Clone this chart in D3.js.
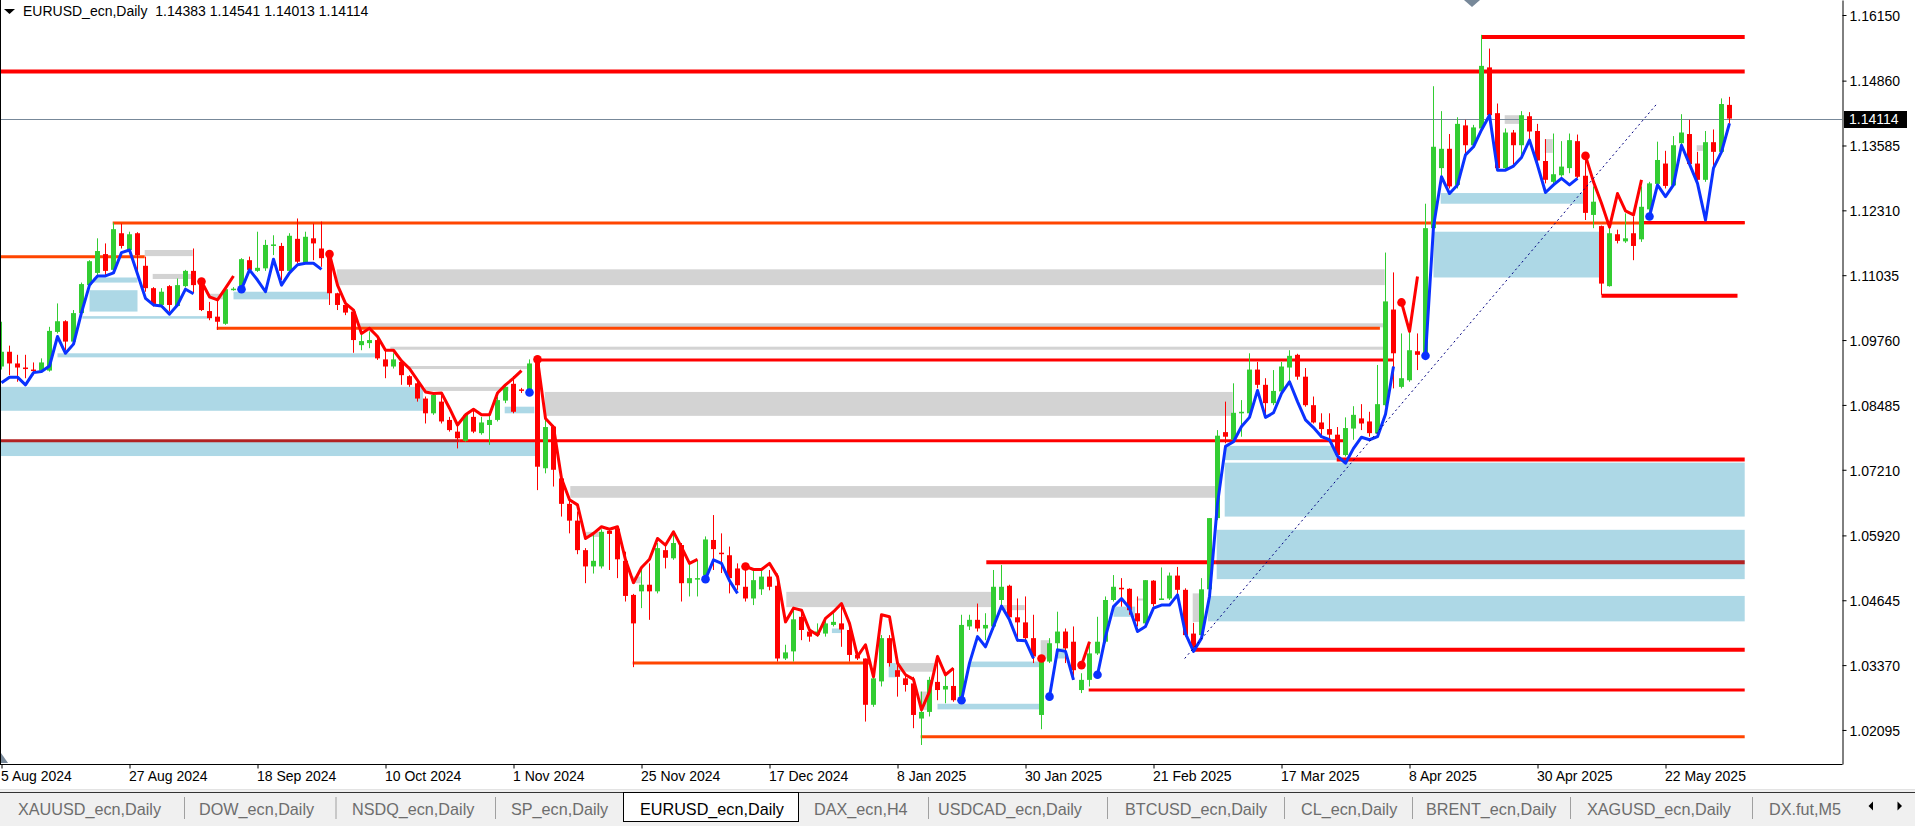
<!DOCTYPE html>
<html>
<head>
<meta charset="utf-8">
<script src="https://cdn.jsdelivr.net/npm/d3@7/dist/d3.min.js"></script>
<style>
html,body{margin:0;padding:0;background:#fff;overflow:hidden;}
svg{display:block;}
text{font-family:"Liberation Sans",Arial,sans-serif;}
</style>
</head>
<body>
<svg id="chart" width="1915" height="826"></svg>
<script>
// ---------------- DATA ----------------
const symbolTitle = "EURUSD_ecn,Daily";
const lastOHLC = ["1.14383", "1.14541", "1.14013", "1.14114"];
const currentPrice = 1.14114;

const priceTicks = [1.16150, 1.14860, 1.13585, 1.12310, 1.11035, 1.09760, 1.08485, 1.07210, 1.05920, 1.04645, 1.03370, 1.02095];
const dateLabels = ["5 Aug 2024", "27 Aug 2024", "18 Sep 2024", "10 Oct 2024", "1 Nov 2024", "25 Nov 2024", "17 Dec 2024", "8 Jan 2025", "30 Jan 2025", "21 Feb 2025", "17 Mar 2025", "8 Apr 2025", "30 Apr 2025", "22 May 2025"];
const dateLabelBars = [0, 16, 32, 48, 64, 80, 96, 112, 128, 144, 160, 176, 192, 208];

const tabNames = ["XAUUSD_ecn,Daily", "DOW_ecn,Daily", "NSDQ_ecn,Daily", "SP_ecn,Daily", "EURUSD_ecn,Daily", "DAX_ecn,H4", "USDCAD_ecn,Daily", "BTCUSD_ecn,Daily", "CL_ecn,Daily", "BRENT_ecn,Daily", "XAGUSD_ecn,Daily", "DX.fut,M5"];
const activeTab = "EURUSD_ecn,Daily";

const opens = [1.0924,1.0953,1.0930,1.0922,1.0918,1.0916,1.0916,1.0992,1.1013,1.0973,1.1029,1.1084,1.1108,1.1145,1.1114,1.1186,1.1153,1.1186,1.1122,1.1078,1.1045,1.1082,1.1043,1.1082,1.1112,1.1094,1.1033,1.1022,1.1008,1.1075,1.1078,1.1133,1.1112,1.1117,1.1161,1.1161,1.1112,1.1175,1.1128,1.1176,1.1156,1.1150,1.1068,1.1045,1.1032,1.0966,1.0970,1.0976,1.0938,1.0924,1.0933,1.0905,1.0891,1.0861,1.0832,1.0855,1.0819,1.0796,1.0778,1.0825,1.0793,1.0809,1.0819,1.0857,1.0890,1.0879,1.0878,1.0937,1.0724,1.0806,1.0704,1.0654,1.0621,1.0563,1.0531,1.0531,1.0601,1.0605,1.0542,1.0475,1.0482,1.0495,1.0482,1.0563,1.0547,1.0573,1.0498,1.0506,1.0514,1.0583,1.0558,1.0553,1.0527,1.0491,1.0468,1.0486,1.0511,1.0493,1.0350,1.0364,1.0432,1.0403,1.0396,1.0399,1.0416,1.0419,1.0406,1.0357,1.0350,1.0259,1.0305,1.0390,1.0327,1.0311,1.0301,1.0232,1.0245,1.0304,1.0289,1.0296,1.0275,1.0413,1.0426,1.0409,1.0413,1.0465,1.0493,1.0431,1.0421,1.0390,1.0239,1.0344,1.0380,1.0403,1.0383,1.0288,1.0308,1.0360,1.0383,1.0465,1.0489,1.0487,1.0439,1.0419,1.0503,1.0465,1.0468,1.0513,1.0485,1.0399,1.0396,1.0486,1.0626,1.0795,1.0780,1.0832,1.0832,1.0918,1.0888,1.0852,1.0875,1.0922,1.0947,1.0904,1.0848,1.0814,1.0801,1.0790,1.0750,1.0802,1.0822,1.0816,1.0793,1.0848,1.1036,1.0884,1.0897,1.0954,1.0950,1.1196,1.1314,1.1352,1.1281,1.1398,1.1359,1.1392,1.1512,1.1422,1.1314,1.1384,1.1359,1.1416,1.1387,1.1328,1.1287,1.1300,1.1314,1.1367,1.1299,1.1222,1.1200,1.1082,1.1184,1.1170,1.1186,1.1174,1.1233,1.1283,1.1323,1.1280,1.1363,1.1381,1.1323,1.1291,1.1365,1.1346,1.14383];
const highs = [1.1012,1.0965,1.0947,1.0947,1.0932,1.0940,1.1002,1.1048,1.1015,1.1035,1.1089,1.1133,1.1176,1.1166,1.1207,1.1205,1.1189,1.1188,1.1140,1.1080,1.1078,1.1084,1.1097,1.1114,1.1156,1.1097,1.1051,1.1055,1.1078,1.1080,1.1137,1.1140,1.1189,1.1173,1.1182,1.1167,1.1186,1.1215,1.1189,1.1205,1.1209,1.1153,1.1069,1.1048,1.1035,1.0989,1.0993,1.0979,1.0956,1.0950,1.0937,1.0907,1.0894,1.0865,1.0871,1.0871,1.0825,1.0811,1.0832,1.0842,1.0825,1.0829,1.0865,1.0890,1.0905,1.0882,1.0938,1.0943,1.0822,1.0809,1.0708,1.0662,1.0639,1.0567,1.0599,1.0604,1.0604,1.0609,1.0560,1.0477,1.0527,1.0537,1.0577,1.0577,1.0596,1.0577,1.0537,1.0544,1.0590,1.0632,1.0596,1.0570,1.0537,1.0537,1.0524,1.0524,1.0524,1.0517,1.0377,1.0445,1.0445,1.0412,1.0419,1.0429,1.0440,1.0455,1.0413,1.0364,1.0350,1.0327,1.0396,1.0396,1.0341,1.0318,1.0314,1.0285,1.0314,1.0357,1.0318,1.0331,1.0436,1.0436,1.0458,1.0439,1.0524,1.0534,1.0495,1.0468,1.0472,1.0436,1.0350,1.0390,1.0442,1.0409,1.0413,1.0321,1.0383,1.0432,1.0472,1.0514,1.0508,1.0488,1.0472,1.0504,1.0504,1.0529,1.0519,1.0530,1.0488,1.0420,1.0508,1.0626,1.0799,1.0855,1.0891,1.0858,1.0950,1.0933,1.0901,1.0917,1.0933,1.0956,1.0949,1.0921,1.0865,1.0832,1.0832,1.0805,1.0824,1.0846,1.0850,1.0835,1.0927,1.1148,1.1109,1.0989,1.0996,1.0989,1.1244,1.1475,1.1426,1.1381,1.1414,1.1409,1.1399,1.1576,1.1549,1.1441,1.1392,1.1389,1.1426,1.1424,1.1401,1.1371,1.1382,1.1367,1.1382,1.1380,1.1337,1.1278,1.1201,1.1199,1.1193,1.1225,1.1219,1.1278,1.1287,1.1366,1.1348,1.1377,1.1420,1.1409,1.1346,1.1387,1.1390,1.1451,1.14541];
const lows = [1.0918,1.0907,1.0894,1.0901,1.0907,1.0914,1.0914,1.0989,1.0956,1.0970,1.1025,1.1081,1.1104,1.1102,1.1110,1.1156,1.1150,1.1101,1.1071,1.1042,1.1042,1.1032,1.1042,1.1080,1.1068,1.1033,1.1015,1.0996,1.1006,1.1073,1.1074,1.1110,1.1110,1.1112,1.1143,1.1094,1.1110,1.1127,1.1127,1.1133,1.1120,1.1045,1.1035,1.1025,1.0951,1.0956,1.0960,1.0937,1.0901,1.0920,1.0888,1.0884,1.0855,1.0812,1.0829,1.0812,1.0796,1.0763,1.0776,1.0793,1.0790,1.0770,1.0816,1.0852,1.0832,1.0872,1.0871,1.0681,1.0714,1.0688,1.0629,1.0596,1.0555,1.0498,1.0517,1.0527,1.0524,1.0508,1.0462,1.0333,1.0449,1.0426,1.0478,1.0527,1.0544,1.0462,1.0472,1.0472,1.0508,1.0524,1.0518,1.0478,1.0485,1.0462,1.0455,1.0475,1.0484,1.0344,1.0347,1.0344,1.0386,1.0383,1.0393,1.0393,1.0413,1.0373,1.0344,1.0347,1.0226,1.0255,1.0295,1.0334,1.0275,1.0285,1.0213,1.0180,1.0236,1.0268,1.0262,1.0265,1.0268,1.0406,1.0403,1.0386,1.0406,1.0452,1.0426,1.0383,1.0383,1.0341,1.0211,1.0341,1.0367,1.0341,1.0308,1.0282,1.0295,1.0357,1.0380,1.0462,1.0452,1.0436,1.0413,1.0416,1.0452,1.0465,1.0465,1.0472,1.0393,1.0367,1.0393,1.0482,1.0622,1.0773,1.0776,1.0786,1.0829,1.0881,1.0829,1.0848,1.0871,1.0891,1.0898,1.0845,1.0812,1.0786,1.0780,1.0740,1.0747,1.0780,1.0799,1.0786,1.0790,1.0845,1.0881,1.0881,1.0894,1.0917,1.0947,1.1192,1.1297,1.1274,1.1274,1.1343,1.1356,1.1392,1.1415,1.1310,1.1310,1.1317,1.1337,1.1369,1.1323,1.1284,1.1281,1.1297,1.1304,1.1294,1.1212,1.1196,1.1065,1.1081,1.1166,1.1167,1.1133,1.1169,1.1225,1.1281,1.1274,1.1277,1.1359,1.1320,1.1287,1.1287,1.1304,1.1344,1.14013];
const closes = [1.0953,1.0930,1.0922,1.0919,1.0916,1.0932,1.0994,1.1013,1.0973,1.1029,1.1086,1.1131,1.1151,1.1112,1.1194,1.1161,1.1184,1.1143,1.1078,1.1047,1.1071,1.1045,1.1084,1.1112,1.1084,1.1035,1.1019,1.1012,1.1076,1.1077,1.1135,1.1114,1.1118,1.1163,1.1164,1.1112,1.1181,1.1130,1.1179,1.1166,1.1137,1.1068,1.1045,1.1030,1.0976,1.0974,1.0976,1.0940,1.0924,1.0938,1.0907,1.0888,1.0861,1.0832,1.0868,1.0816,1.0799,1.0783,1.0829,1.0796,1.0814,1.0819,1.0858,1.0884,1.0835,1.0876,1.0930,1.0727,1.0805,1.0721,1.0654,1.0621,1.0563,1.0531,1.0542,1.0599,1.0595,1.0545,1.0473,1.0419,1.0495,1.0482,1.0567,1.0548,1.0577,1.0498,1.0508,1.0508,1.0584,1.0565,1.0556,1.0508,1.0494,1.0468,1.0504,1.0511,1.0491,1.0350,1.0362,1.0427,1.0406,1.0393,1.0403,1.0419,1.0422,1.0407,1.0357,1.0350,1.0259,1.0311,1.0390,1.0341,1.0314,1.0298,1.0239,1.0245,1.0308,1.0288,1.0296,1.0268,1.0416,1.0426,1.0409,1.0416,1.0491,1.0491,1.0431,1.0421,1.0390,1.0354,1.0347,1.0380,1.0403,1.0370,1.0327,1.0308,1.0360,1.0383,1.0465,1.0491,1.0486,1.0445,1.0423,1.0504,1.0457,1.0468,1.0513,1.0485,1.0396,1.0373,1.0486,1.0626,1.0788,1.0786,1.0833,1.0835,1.0918,1.0888,1.0852,1.0876,1.0924,1.0945,1.0904,1.0848,1.0814,1.0801,1.0790,1.0750,1.0803,1.0829,1.0812,1.0793,1.0850,1.1052,1.0950,1.0901,1.0956,1.0947,1.1196,1.1356,1.1352,1.1278,1.1401,1.1359,1.1394,1.1515,1.1418,1.1314,1.1384,1.1359,1.1418,1.1386,1.1329,1.1291,1.1302,1.1317,1.1369,1.1297,1.1226,1.1248,1.1087,1.1186,1.1171,1.1176,1.1161,1.1238,1.1284,1.1330,1.1279,1.1359,1.1384,1.1322,1.1291,1.1365,1.1346,1.1440,1.14114];

// trend-following HiLo line (one value per bar) and its runs: [firstBar, lastBar, direction(1 up / -1 down)]
const hiloValues = [1.0892,1.0903,1.0903,1.0888,1.0912,1.0914,1.0925,1.0983,1.0950,1.0968,1.1030,1.1084,1.1102,1.1102,1.1108,1.1148,1.1153,1.1106,1.1058,1.1045,1.1043,1.1027,1.1045,1.1076,1.1067,
1.1091,1.1061,1.1055,1.1078,1.1102,
1.1076,1.1114,1.1094,1.1071,1.1135,1.1084,1.1108,1.1124,1.1127,1.1127,1.1115,
1.1145,1.1084,1.1048,1.1035,1.0989,1.0999,1.0983,1.0956,1.0956,1.0935,1.0920,1.0897,1.0874,1.0871,1.0872,1.0842,1.0809,1.0829,1.0840,1.0829,1.0829,1.0872,1.0888,1.0901,1.0916,
1.0873,
1.0938,1.0822,1.0805,1.0704,1.0662,1.0652,1.0586,1.0596,1.0609,1.0604,1.0609,1.0544,1.0499,1.0529,1.0545,1.0586,1.0573,1.0599,1.0569,1.0537,1.0545,
1.0506,1.0544,1.0537,1.0503,1.0478,
1.0531,1.0525,1.0525,1.0537,1.0511,1.0422,1.0449,1.0445,1.0406,1.0396,1.0429,1.0442,1.0458,1.0419,1.0354,1.0377,1.0314,1.0436,1.0432,1.0341,1.0318,1.0309,1.0249,1.0285,1.0354,1.0318,1.0331,
1.0268,1.0341,1.0393,1.0373,1.0413,1.0453,1.0426,1.0386,1.0385,1.0350,
1.0350,
1.0275,1.0367,1.0364,1.0308,
1.0337,1.0383,
1.0318,1.0393,1.0452,1.0468,1.0449,1.0403,1.0413,1.0449,1.0455,1.0455,1.0475,1.0399,1.0364,1.0390,1.0472,1.0655,1.0767,1.0776,1.0806,1.0824,1.0877,1.0824,1.0833,1.0871,1.0894,1.0855,1.0819,1.0804,1.0786,1.0780,1.0748,1.0734,1.0763,1.0785,1.0780,1.0786,1.0830,1.0924,
1.1050,1.0993,1.1101,
1.0945,1.1199,1.1297,1.1264,1.1281,1.1340,1.1356,1.1389,1.1418,1.1310,1.1310,1.1318,1.1335,1.1369,1.1320,1.1266,1.1281,1.1294,1.1281,1.1294,
1.1338,1.1287,1.1245,1.1198,1.1264,1.1230,1.1222,1.1291,
1.1219,1.1281,1.1258,1.1281,1.1359,1.1322,1.1284,1.1212,1.1314,1.1346,1.1402];
const hiloRuns = [[0,24,1],[25,29,-1],[30,40,1],[41,65,-1],[66,66,1],[67,87,-1],[88,92,1],[93,119,-1],[120,129,1],[130,130,-1],[131,134,1],[135,136,-1],[137,174,1],[175,177,-1],[178,197,1],[198,205,-1],[206,216,1]];

// zones: [startBar, endBar, upperPrice, lowerPrice]
const demandZones = [[11.5,17,1.1099,1.1089],[11,17,1.1074,1.1032],[10.1,25.9,1.1023,1.1018],[7,46.7,1.0950,1.0942],[-1,52.7,1.0884,1.0837],[-1,66.8,1.0776,1.0748],[62.9,66.6,1.0845,1.0832],[29,40.9,1.1071,1.1056],[103.8,105,1.0409,1.0400],[110.9,111.8,1.0341,1.0313],[121,129.7,1.0344,1.0333],[117,129.7,1.0261,1.0250],[131.9,133,1.0370,1.0350],[139,141.7,1.0452,1.0432],[152.9,166.9,1.0768,1.0740],[152.9,217.9,1.0735,1.0629],[151.9,217.9,1.0603,1.0506],[150.8,217.9,1.0473,1.0423],[179.9,197.7,1.1265,1.1244],[179,199.7,1.1189,1.1099]];
const supplyZones = [[17.9,23.9,1.1153,1.1141],[18.9,23.9,1.1106,1.1096],[25.9,28.1,1.1067,1.1056],[41.9,172.9,1.1115,1.1084],[44.8,172.7,1.1009,1.1001],[48.6,172.7,1.0963,1.0957],[50.8,65.8,1.0925,1.0919],[52.9,63.4,1.0884,1.0876],[67.9,153.9,1.0874,1.0827],[71.1,151.7,1.0689,1.0666],[98.1,123.7,1.0481,1.0451],[73,75.3,1.0599,1.0589],[78.8,79.9,1.0511,1.0498],[111.8,116.6,1.0341,1.0324],[114.8,115.7,1.0285,1.0249],[124.8,127.9,1.0455,1.0445],[129.9,131.1,1.0386,1.0350],[141.9,142.7,1.0468,1.0464],[148.9,149.8,1.0478,1.0422],[187.9,189.7,1.1418,1.1401],[192.9,193.9,1.1371,1.1344],[211.9,212.7,1.1359,1.1348]];

// horizontal levels: [startBar, endBar, price]
const majorLevels = [[185,217.9,1.1572],[-1,217.9,1.1504],[166.9,217.9,1.0741],[123.1,151.8,1.0539],[148.9,217.9,1.0367],[200,217,1.1063]];
const minorLevels = [[205.2,217.9,1.1207],[66.8,174,1.0937],[57.2,167.7,1.0778],[135.9,217.9,1.0288]];
const swingLevels = [[13.9,217.9,1.1206],[-1,17.9,1.1140],[26.9,172.3,1.0999],[114.9,217.9,1.0196],[78.9,108.7,1.0341]];
const oldLevels = [[-1,57.2,1.0778,3],[151.8,217.9,1.0539,4]];

const trendlineBars = [147.9, 206.9];
const trendlinePrices = [1.0350, 1.1440];

// ---------------- DRAW ----------------
const svg = d3.select("#chart");
const PR = 1842, PB = 764;
const x = d3.scaleLinear().domain([0, 216]).range([1.5, 1729.5]);
const y = d3.scaleLinear().domain([1.01426, 1.16445]).range([PB, 0]);

svg.append("rect").attr("width", 1915).attr("height", 826).attr("fill", "#fff");
svg.append("defs").append("clipPath").attr("id", "pc")
  .append("rect").attr("x", 0).attr("y", 0).attr("width", PR).attr("height", PB);
const g = svg.append("g").attr("clip-path", "url(#pc)");

function zones(data, color) {
  g.append("g").selectAll("rect").data(data).join("rect")
    .attr("x", d => x(d[0])).attr("width", d => x(d[1]) - x(d[0]))
    .attr("y", d => y(d[2])).attr("height", d => Math.max(1, y(d[3]) - y(d[2])))
    .attr("fill", color);
}
zones(supplyZones, "#d3d3d3");
zones(demandZones, "#add8e6");

function levels(data, color, w) {
  g.append("g").selectAll("line").data(data).join("line")
    .attr("x1", d => x(d[0])).attr("x2", d => x(d[1]))
    .attr("y1", d => y(d[2])).attr("y2", d => y(d[2]))
    .attr("stroke", color).attr("stroke-width", d => d[3] || w);
}
levels(swingLevels, "#ff4500", 3);
levels(minorLevels, "#ff0000", 3);
levels(majorLevels, "#ff0000", 4);
levels(oldLevels, "#b22222", 3);

// current price line
g.append("line").attr("x1", 0).attr("x2", PR)
  .attr("y1", Math.round(y(currentPrice)) + 0.5).attr("y2", Math.round(y(currentPrice)) + 0.5)
  .attr("stroke", "#778899").attr("stroke-width", 1);

// candles
const bars = d3.range(opens.length).map(i => ({i, o: opens[i], h: highs[i], l: lows[i], c: closes[i]}));
const cg = g.append("g");
const cs = cg.selectAll("g").data(bars).join("g");
cs.append("line")
  .attr("x1", d => x(d.i)).attr("x2", d => x(d.i))
  .attr("y1", d => y(d.h)).attr("y2", d => y(d.l))
  .attr("stroke", d => d.c >= d.o ? "#32cd32" : "#ff0000").attr("stroke-width", 1);
cs.append("rect")
  .attr("x", d => x(d.i) - 2.5).attr("width", 5)
  .attr("y", d => y(Math.max(d.o, d.c)))
  .attr("height", d => Math.max(1.5, Math.abs(y(d.o) - y(d.c))))
  .attr("fill", d => d.c >= d.o ? "#32cd32" : "#ff0000");

// HiLo trend line
const ln = d3.line().x(d => x(d)).y(d => y(hiloValues[d]));
const hg = g.append("g");
hiloRuns.forEach((r, k) => {
  const col = r[2] > 0 ? "#0a32ff" : "#ff0000";
  const idx = d3.range(r[0], r[1] + 1);
  if (idx.length > 1) {
    hg.append("path").attr("d", ln(idx)).attr("fill", "none")
      .attr("stroke", col).attr("stroke-width", 3).attr("stroke-linejoin", "round");
  }
  if (k > 0) {
    hg.append("circle").attr("cx", x(r[0])).attr("cy", y(hiloValues[r[0]])).attr("r", 4.3).attr("fill", col);
  }
});

// dotted trendline
g.append("line")
  .attr("x1", x(trendlineBars[0])).attr("y1", y(trendlinePrices[0]))
  .attr("x2", x(trendlineBars[1])).attr("y2", y(trendlinePrices[1]))
  .attr("stroke", "#000080").attr("stroke-width", 1).attr("stroke-dasharray", "2,3");

// chart shift markers
svg.append("polygon").attr("points", "1464,0 1480,0 1472,7").attr("fill", "#778899");
svg.append("polygon").attr("points", "1,753 1,763 8,763").attr("fill", "#778899");

// frame
svg.append("line").attr("x1", 0.5).attr("x2", 0.5).attr("y1", 0).attr("y2", PB).attr("stroke", "#000");
svg.append("line").attr("x1", 0).attr("x2", PR + 0.5).attr("y1", PB + 0.5).attr("y2", PB + 0.5).attr("stroke", "#000");

// y axis
const yAxis = d3.axisRight(y).tickValues(priceTicks).tickFormat(d3.format(".5f")).tickSize(4).tickSizeOuter(0).tickPadding(3);
const ya = svg.append("g").attr("transform", `translate(${PR + 0.5},0)`).call(yAxis);
ya.select(".domain").attr("stroke", "#000");
ya.selectAll("line").attr("stroke", "#000");
ya.selectAll("text").attr("font-family", "Liberation Sans").attr("font-size", 14).attr("fill", "#000").attr("dy", "0.38em");

// current price label
const cy = Math.round(y(currentPrice));
svg.append("rect").attr("x", PR + 2).attr("y", cy - 8).attr("width", 63).attr("height", 17).attr("fill", "#000");
svg.append("text").attr("x", PR + 7).attr("y", cy + 5).attr("font-size", 14).attr("fill", "#fff").text(d3.format(".5f")(currentPrice));

// x axis
const xAxis = d3.axisBottom(x).tickValues(dateLabelBars).tickFormat((d, i) => dateLabels[i]).tickSize(4).tickSizeOuter(0).tickPadding(3);
const xa = svg.append("g").attr("transform", `translate(0,${PB + 0.5})`).call(xAxis);
xa.select(".domain").remove();
xa.selectAll("line").attr("stroke", "#000");
xa.selectAll("text").attr("font-family", "Liberation Sans").attr("font-size", 14).attr("fill", "#000")
  .attr("text-anchor", "start").attr("x", -1);

// header
svg.append("polygon").attr("points", "4,9 15,9 9.5,14").attr("fill", "#000");
svg.append("text").attr("x", 23).attr("y", 15.5).attr("font-size", 14).attr("fill", "#000")
  .attr("xml:space", "preserve").text(symbolTitle + "  " + lastOHLC.join(" "));

// tab strip
svg.append("rect").attr("x", 0).attr("y", 789).attr("width", 1915).attr("height", 37).attr("fill", "#f0f0f0");
svg.append("line").attr("x1", 0).attr("x2", 1915).attr("y1", 789.5).attr("y2", 789.5).attr("stroke", "#e3e3e3");
svg.append("line").attr("x1", 0).attr("x2", 1915).attr("y1", 792.5).attr("y2", 792.5).attr("stroke", "#333");
const tabTextX = [18, 199, 352, 511, 640, 814, 938, 1125, 1301, 1426, 1587, 1769];
const tabSeps = [184, 335.5, 495, 928, 1107, 1284, 1412, 1570, 1752];
svg.append("rect").attr("x", 623.5).attr("y", 792.5).attr("width", 175).attr("height", 29).attr("fill", "#fff").attr("stroke", "#000");
svg.append("g").selectAll("line").data(tabSeps).join("line")
  .attr("x1", d => d + 0.5).attr("x2", d => d + 0.5).attr("y1", 797).attr("y2", 819).attr("stroke", "#a0a0a0");
svg.append("g").selectAll("text").data(tabNames).join("text")
  .attr("x", (d, i) => tabTextX[i]).attr("y", 815).attr("font-size", 16.2)
  .attr("fill", d => d === activeTab ? "#000" : "#6d6d6d").text(d => d);
svg.append("polygon").attr("points", "1873,801.5 1873,810.5 1868.5,806").attr("fill", "#000");
svg.append("polygon").attr("points", "1897.5,801.5 1897.5,810.5 1902,806").attr("fill", "#000");
</script>
</body>
</html>
